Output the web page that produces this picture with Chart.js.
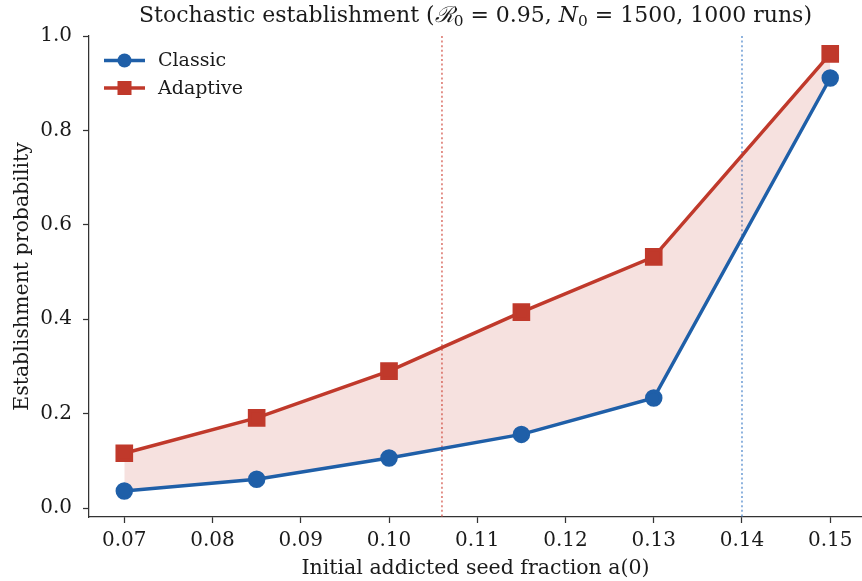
<!DOCTYPE html>
<html><head><meta charset="utf-8">
<script src="https://cdn.jsdelivr.net/npm/chart.js@4.4.1/dist/chart.umd.min.js"></script>
<style>html,body{margin:0;padding:0;background:#fff}#wrap{width:862px;height:581px}</style>
</head><body><div id="wrap"><canvas id="c" width="862" height="581"></canvas></div>
<script>
// ---- data ----
const seedFractions = [0.07, 0.085, 0.10, 0.115, 0.13, 0.15];
const classicProb   = [0.036, 0.061, 0.106, 0.156, 0.233, 0.911];
const adaptiveProb  = [0.116, 0.191, 0.290, 0.415, 0.532, 0.962];
const seriesNames   = ['Classic', 'Adaptive'];
const xTickValues   = [0.07, 0.08, 0.09, 0.10, 0.11, 0.12, 0.13, 0.14, 0.15];
const yTickValues   = [0.0, 0.2, 0.4, 0.6, 0.8, 1.0];
const thresholdValues = [0.106, 0.140];   // adaptive, classic thresholds
const xLimits = [0.066, 0.1536];
const yLimits = [-0.019, 1.0];

// ---- styles ----
const SERIF = '"DejaVu Serif", "Liberation Serif", serif';
const BLUE = '#1f5fa8';
const RED = '#c0392b';
const FILL = 'rgba(192,57,43,0.15)';
const thresholdColors = ['rgba(214,96,86,0.85)', 'rgba(100,150,210,0.9)'];
const INK = '#1a1a1a';

const toXY = (ys) => seedFractions.map((x, i) => ({x: x, y: ys[i]}));

const thresholdPlugin = {
  id: 'thresholds',
  beforeDatasetsDraw(chart) {
    const {ctx, chartArea, scales} = chart;
    ctx.save();
    ctx.lineWidth = 1.6;
    ctx.setLineDash([2, 2.6]);
    thresholdValues.forEach((v, i) => {
      const px = scales.x.getPixelForValue(v);
      ctx.strokeStyle = thresholdColors[i];
      ctx.beginPath();
      ctx.moveTo(px, chartArea.top);
      ctx.lineTo(px, chartArea.bottom);
      ctx.stroke();
    });
    ctx.restore();
  }
};

const titleLegendPlugin = {
  id: 'titleLegend',
  afterDraw(chart) {
    const ctx = chart.ctx;
    const area = chart.chartArea;
    ctx.save();
    // ---- title with math-like segments ----
    const size = 22;
    const segs = [
      ['Stochastic establishment (', `${size}px ${SERIF}`, 0],
      ['ℛ', `italic ${size}px ${SERIF}`, 0],
      ['0', `${size*0.7}px ${SERIF}`, 4],
      [' = 0.95, ', `${size}px ${SERIF}`, 0],
      ['N', `italic ${size}px ${SERIF}`, 0],
      ['0', `${size*0.7}px ${SERIF}`, 4],
      [' = 1500, 1000 runs)', `${size}px ${SERIF}`, 0]
    ];
    let total = 0;
    segs.forEach(s => { ctx.font = s[1]; total += ctx.measureText(s[0]).width; });
    let x = (area.left + area.right) / 2 - total / 2;
    const baseY = 22;
    ctx.fillStyle = INK;
    ctx.textBaseline = 'alphabetic';
    ctx.textAlign = 'left';
    segs.forEach(s => {
      ctx.font = s[1];
      ctx.fillText(s[0], x, baseY + s[2]);
      x += ctx.measureText(s[0]).width;
    });
    // ---- legend ----
    const rows = [60.5, 88];
    chart.data.datasets.forEach((ds, i) => {
      const y = rows[i];
      ctx.strokeStyle = ds.borderColor;
      ctx.lineWidth = ds.borderWidth;
      ctx.setLineDash([]);
      ctx.beginPath();
      ctx.moveTo(104, y);
      ctx.lineTo(145, y);
      ctx.stroke();
      ctx.fillStyle = ds.borderColor;
      if (ds.pointStyle === 'rect') {
        ctx.fillRect(124.5 - 7, y - 7, 14, 14);
      } else {
        ctx.beginPath();
        ctx.arc(124.5, y, 7, 0, Math.PI * 2);
        ctx.fill();
      }
      ctx.fillStyle = INK;
      ctx.font = `19px ${SERIF}`;
      ctx.textBaseline = 'middle';
      ctx.fillText(ds.label, 158, y + 1);
    });
    ctx.restore();
  }
};

new Chart(document.getElementById('c'), {
  type: 'line',
  data: {
    datasets: [
      {
        label: seriesNames[0],
        data: toXY(classicProb),
        borderColor: BLUE,
        backgroundColor: BLUE,
        pointBackgroundColor: BLUE,
        pointBorderColor: BLUE,
        borderWidth: 3.5,
        pointRadius: 7,
        pointHoverRadius: 7,
        pointStyle: 'circle',
        tension: 0,
        fill: false
      },
      {
        label: seriesNames[1],
        data: toXY(adaptiveProb),
        borderColor: RED,
        backgroundColor: FILL,
        pointBackgroundColor: RED,
        pointBorderColor: RED,
        borderWidth: 3.5,
        pointRadius: 10,
        pointHoverRadius: 10,
        pointStyle: 'rect',
        tension: 0,
        fill: '-1'
      }
    ]
  },
  options: {
    responsive: false,
    animation: false,
    devicePixelRatio: 1,
    layout: {autoPadding: false, padding: {top: 36, left: 0, right: 0, bottom: 0}},
    plugins: {
      legend: {display: false},
      title: {display: false},
      tooltip: {enabled: false},
      filler: {propagate: false}
    },
    scales: {
      x: {
        type: 'linear',
        min: xLimits[0],
        max: xLimits[1],
        afterBuildTicks: s => { s.ticks = xTickValues.map(v => ({value: v})); },
        afterFit: s => { s.height = 64; },
        ticks: {
          callback: v => Number(v).toFixed(2),
          font: {family: SERIF, size: 20},
          color: INK,
          padding: 6,
          maxRotation: 0,
          autoSkip: false
        },
        grid: {display: true, drawOnChartArea: false, drawTicks: true, tickLength: 6, tickWidth: 1.25, tickColor: '#333'},
        border: {display: true, color: '#333', width: 1.25},
        title: {display: true, text: 'Initial addicted seed fraction a(0)', font: {family: SERIF, size: 20.5}, color: INK, padding: {top: 0, bottom: 0}}
      },
      y: {
        type: 'linear',
        min: yLimits[0],
        max: yLimits[1],
        afterBuildTicks: s => { s.ticks = yTickValues.map(v => ({value: v})); },
        afterFit: s => { s.width = 89; },
        ticks: {
          callback: v => Number(v).toFixed(1),
          font: {family: SERIF, size: 20},
          color: INK,
          padding: 11
        },
        grid: {display: true, drawOnChartArea: false, drawTicks: true, tickLength: 6, tickWidth: 1.25, tickColor: '#333'},
        border: {display: true, color: '#333', width: 1.25},
        title: {display: true, text: 'Establishment probability', font: {family: SERIF, size: 20.5}, color: INK, padding: {top: 10, bottom: 0}}
      }
    }
  },
  plugins: [thresholdPlugin, titleLegendPlugin]
});
</script></body></html>
